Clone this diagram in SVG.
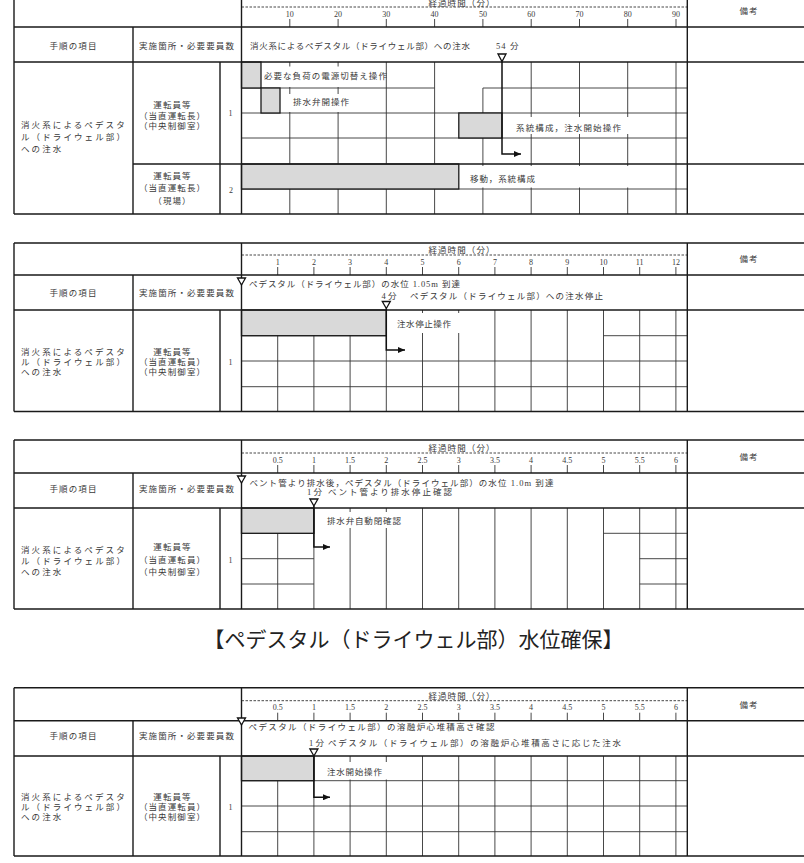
<svg xmlns="http://www.w3.org/2000/svg" width="804" height="863" viewBox="0 0 804 863">
<defs>
<marker id="ah" markerWidth="7" markerHeight="6" refX="7" refY="3" orient="auto" markerUnits="userSpaceOnUse"><path d="M0,0 L7,3 L0,6 z" fill="#111"/></marker>
</defs>
<style>
.b{stroke:#1a1a1a;stroke-width:1.4;fill:none}
.g{stroke:#333;stroke-width:0.9;fill:none}
.d{stroke:#333;stroke-width:0.9;stroke-dasharray:2.5 1.5;fill:none}
.bar{fill:#d9d9d9;stroke:#1a1a1a;stroke-width:1.3}
.bg{fill:#fff}
.t{font-family:"Liberation Serif","Noto Sans CJK JP",serif;font-size:8.5px;fill:#3a3a3a;letter-spacing:1.1px}
.c{text-anchor:middle}
.l{letter-spacing:2.1px}
.z{letter-spacing:0}
.n{font-family:"Liberation Serif",serif;font-size:8px;fill:#3a3a3a;text-anchor:middle}
.tri{fill:#fff;stroke:#111;stroke-width:1.3}
.ar{stroke:#111;stroke-width:1.5;fill:none;marker-end:url(#ah)}
.title{font-family:"Liberation Serif","Noto Sans CJK JP",serif;font-size:21px;fill:#222;text-anchor:middle}
</style>
<rect width="804" height="863" fill="#fff"/>

<!-- ================= TABLE 1 ================= -->
<g id="table1">
  <g id="t1-grid">
    <path class="d" d="M241.5 7H687.3"/>
    <path class="g" d="M289.8 19V27M338.1 19V27M386.3 19V27M434.6 19V27M482.9 19V27M531.2 19V27M579.5 19V27M627.7 19V27M676 19V27"/>
    <path class="g" d="M241.5 88H434.6M482.9 88H687.3M241.5 113H687.3M241.5 138H687.3M241.5 189H687.3"/>
    <path class="g" d="M289.8 62V214M338.1 62V214M386.3 62V214M434.6 62V214M482.9 88V214M531.2 62V214M579.5 62V214M627.7 62V214M676 62V214"/>
  </g>
  <g id="t1-bars">
    <rect class="bar" x="241.5" y="62" width="19.5" height="26"/>
    <rect class="bar" x="261" y="88" width="19" height="25"/>
    <rect class="bar" x="458.8" y="113" width="43.2" height="25"/>
    <rect class="bar" x="241.5" y="164" width="217.3" height="25"/>
    <rect class="bg" x="262.5" y="66.5" width="121" height="20.5"/>
    <rect class="bg" x="283" y="94" width="100" height="18"/>
    <rect class="bg" x="512" y="117" width="158" height="17"/>
    <rect class="bg" x="460" y="166" width="212" height="21.5"/>
  </g>
  <path class="b" d="M14 -6H804M14 27H804M14 62H804M14 214H804M133 164H804M14 -6V214M133 27V214M220 62V214M241.5 -6V214M687.3 -6V214"/>
  <g id="t1-labels">
    <text class="n" x="289.8" y="16.5">10</text><text class="n" x="338.1" y="16.5">20</text><text class="n" x="386.3" y="16.5">30</text><text class="n" x="434.6" y="16.5">40</text><text class="n" x="482.9" y="16.5">50</text><text class="n" x="531.2" y="16.5">60</text><text class="n" x="579.5" y="16.5">70</text><text class="n" x="627.7" y="16.5">80</text><text class="n" x="676" y="16.5">90</text>
    <text class="t c" x="462" y="5.5">経過時間（分）</text>
    <text class="t c" x="749" y="14">備考</text>
    <text class="t c" x="73.5" y="49">手順の項目</text>
    <text class="t c" x="187" y="49">実施箇所・必要要員数</text>
    <text class="t" x="250" y="49" textLength="221" lengthAdjust="spacing">消火系によるペデスタル（ドライウェル部）への注水</text>
    <text class="t" x="496" y="49">54 分</text>
    <text class="t" x="264" y="78.5" textLength="124" lengthAdjust="spacing">必要な負荷の電源切替え操作</text>
    <text class="t" x="293" y="104.5" textLength="57" lengthAdjust="spacing">排水弁開操作</text>
    <text class="t" x="516" y="130.5" textLength="106" lengthAdjust="spacing">系統構成，注水開始操作</text>
    <text class="t" x="470" y="181.5" textLength="66" lengthAdjust="spacing">移動，系統構成</text>
    <text class="t l" x="21" y="128">消火系によるペデスタ</text>
    <text class="t l" x="21" y="140.3">ル（ドライウェル部）</text>
    <text class="t l" x="21" y="152.3">への注水</text>
    <text class="t c" x="172.5" y="107.5">運転員等</text>
    <text class="t c" x="172.5" y="118.5">（当直運転長）</text>
    <text class="t c" x="172.5" y="129">（中央制御室）</text>
    <text class="n" x="230.5" y="116">1</text>
    <text class="t c" x="172.5" y="178.5">運転員等</text>
    <text class="t c" x="172.5" y="191">（当直運転長）</text>
    <text class="t c" x="172.5" y="204">（現場）</text>
    <text class="n" x="231" y="193">2</text>
  </g>
</g>

<!-- ================= TABLE 2 ================= -->
<g id="table2">
  <g id="t2-grid">
    <path class="d" d="M241.5 255H687.3"/>
    <path class="g" d="M277.7 267V275M313.9 267V275M350.1 267V275M386.3 267V275M422.5 267V275M458.7 267V275M494.9 267V275M531.1 267V275M567.3 267V275M603.5 267V275M639.7 267V275M675.9 267V275"/>
    <path class="g" d="M241.5 335.7H386.3M603.5 335.7H687.3M241.5 361H687.3M241.5 386.7H687.3"/>
    <path class="g" d="M277.7 310V411.5M313.9 310V411.5M350.1 310V411.5M386.3 310V411.5M422.5 310V411.5M458.7 310V411.5M494.9 310V411.5M531.1 310V411.5M567.3 310V411.5M603.5 310V411.5M639.7 310V411.5M675.9 310V411.5"/>
  </g>
  <g id="t2-bars">
    <rect class="bar" x="241.5" y="310" width="144.8" height="25.7"/>
    <rect class="bg" x="390" y="313" width="80" height="20"/>
  </g>
  <path class="b" d="M14 243H804M14 275H804M14 310H804M14 411.5H804M14 243V411.5M133 275V411.5M220 310V411.5M241.5 243V411.5M687.3 243V411.5"/>
  <g id="t2-labels">
    <text class="n" x="277.7" y="264.5">1</text><text class="n" x="313.9" y="264.5">2</text><text class="n" x="350.1" y="264.5">3</text><text class="n" x="386.3" y="264.5">4</text><text class="n" x="422.5" y="264.5">5</text><text class="n" x="458.7" y="264.5">6</text><text class="n" x="494.9" y="264.5">7</text><text class="n" x="531.1" y="264.5">8</text><text class="n" x="567.3" y="264.5">9</text><text class="n" x="603.5" y="264.5">10</text><text class="n" x="639.7" y="264.5">11</text><text class="n" x="675.9" y="264.5">12</text>
    <text class="t c" x="462" y="253">経過時間（分）</text>
    <text class="t c" x="749" y="262">備考</text>
    <text class="t c" x="73.5" y="295.5">手順の項目</text>
    <text class="t c" x="187" y="295.5">実施箇所・必要要員数</text>
    <text class="t" x="249" y="287" textLength="212" lengthAdjust="spacing">ペデスタル（ドライウェル部）の水位 1.05m 到達</text>
    <text class="t z" x="381.5" y="299">4 分</text>
    <text class="t" x="410" y="299" textLength="194" lengthAdjust="spacing">ペデスタル（ドライウェル部）への注水停止</text>
    <text class="t" x="397" y="327" textLength="55" lengthAdjust="spacing">注水停止操作</text>
    <text class="t l" x="21" y="355.3">消火系によるペデスタ</text>
    <text class="t l" x="21" y="365.3">ル（ドライウェル部）</text>
    <text class="t l" x="21" y="375.3">への注水</text>
    <text class="t c" x="172.5" y="354.5">運転員等</text>
    <text class="t c" x="172.5" y="365.3">（当直運転員）</text>
    <text class="t c" x="172.5" y="375.3">（中央制御室）</text>
    <text class="n" x="230.5" y="365">1</text>
  </g>
</g>

<!-- ================= TABLE 3 ================= -->
<g id="table3">
  <g id="t3-grid">
    <path class="d" d="M241.5 453H687.3"/>
    <path class="g" d="M277.7 465V473M313.9 465V473M350.1 465V473M386.3 465V473M422.5 465V473M458.7 465V473M494.9 465V473M531.1 465V473M567.3 465V473M603.5 465V473M639.7 465V473M675.9 465V473"/>
    <path class="g" d="M241.5 533.3H313.9M603.5 533.3H687.3M241.5 558.7H313.9M639.7 558.7H687.3M241.5 584H313.9M639.7 584H687.3"/>
    <path class="g" d="M277.7 533.3V609M313.9 508V609M350.1 508V609M386.3 508V609M422.5 508V609M458.7 508V609M494.9 508V609M531.1 508V609M567.3 508V609M603.5 508V609M639.7 508V609M675.9 508V609"/>
  </g>
  <g id="t3-bars">
    <rect class="bar" x="241.5" y="508" width="72.4" height="25.3"/>
    <rect class="bg" x="322" y="512" width="84" height="16"/>
  </g>
  <path class="b" d="M14 440H804M14 473H804M14 508H804M14 609H804M14 440V609M133 473V609M220 508V609M241.5 440V609M687.3 440V609"/>
  <g id="t3-labels">
    <text class="n" x="277.7" y="462.5">0.5</text><text class="n" x="313.9" y="462.5">1</text><text class="n" x="350.1" y="462.5">1.5</text><text class="n" x="386.3" y="462.5">2</text><text class="n" x="422.5" y="462.5">2.5</text><text class="n" x="458.7" y="462.5">3</text><text class="n" x="494.9" y="462.5">3.5</text><text class="n" x="531.1" y="462.5">4</text><text class="n" x="567.3" y="462.5">4.5</text><text class="n" x="603.5" y="462.5">5</text><text class="n" x="639.7" y="462.5">5.5</text><text class="n" x="675.9" y="462.5">6</text>
    <text class="t c" x="462" y="451">経過時間（分）</text>
    <text class="t c" x="749" y="460">備考</text>
    <text class="t c" x="73.5" y="491.5">手順の項目</text>
    <text class="t c" x="187" y="491.5">実施箇所・必要要員数</text>
    <text class="t" x="249.5" y="486" textLength="305" lengthAdjust="spacing">ベント管より排水後，ペデスタル（ドライウェル部）の水位 1.0m 到達</text>
    <text class="t z" x="307" y="495">1 分</text>
    <text class="t" x="328" y="495" textLength="125" lengthAdjust="spacing">ベント管より排水停止確認</text>
    <text class="t" x="327" y="524" textLength="75" lengthAdjust="spacing">排水弁自動閉確認</text>
    <text class="t l" x="21" y="553">消火系によるペデスタ</text>
    <text class="t l" x="21" y="564">ル（ドライウェル部）</text>
    <text class="t l" x="21" y="575">への注水</text>
    <text class="t c" x="172.5" y="550">運転員等</text>
    <text class="t c" x="172.5" y="563">（当直運転員）</text>
    <text class="t c" x="172.5" y="574.7">（中央制御室）</text>
    <text class="n" x="230.5" y="563">1</text>
  </g>
</g>

<!-- ================= TITLE ================= -->
<text id="title" class="title" x="413.5" y="647" textLength="420" lengthAdjust="spacing">【ペデスタル（ドライウェル部）水位確保】</text>

<!-- ================= TABLE 4 ================= -->
<g id="table4">
  <g id="t4-grid">
    <path class="d" d="M241.5 700.7H687.3"/>
    <path class="g" d="M277.7 712.7V720.7M313.9 712.7V720.7M350.1 712.7V720.7M386.3 712.7V720.7M422.5 712.7V720.7M458.7 712.7V720.7M494.9 712.7V720.7M531.1 712.7V720.7M567.3 712.7V720.7M603.5 712.7V720.7M639.7 712.7V720.7M675.9 712.7V720.7"/>
    <path class="g" d="M241.5 780.7H687.3M241.5 806H687.3M241.5 831.7H687.3"/>
    <path class="g" d="M277.7 780.7V856M313.9 756V856M350.1 756V856M386.3 756V856M422.5 756V856M458.7 756V856M494.9 756V856M531.1 756V856M567.3 756V856M603.5 756V856M639.7 756V856M675.9 756V856"/>
  </g>
  <g id="t4-bars">
    <rect class="bar" x="241.5" y="756" width="72.4" height="24.7"/>
    <rect class="bg" x="321" y="762" width="70" height="17.5"/>
  </g>
  <path class="b" d="M14 687.7H804M14 720.7H804M14 756H804M14 856H804M14 687.7V856M133 720.7V856M220 756V856M241.5 687.7V856M687.3 687.7V856"/>
  <g id="t4-labels">
    <text class="n" x="277.7" y="710">0.5</text><text class="n" x="313.9" y="710">1</text><text class="n" x="350.1" y="710">1.5</text><text class="n" x="386.3" y="710">2</text><text class="n" x="422.5" y="710">2.5</text><text class="n" x="458.7" y="710">3</text><text class="n" x="494.9" y="710">3.5</text><text class="n" x="531.1" y="710">4</text><text class="n" x="567.3" y="710">4.5</text><text class="n" x="603.5" y="710">5</text><text class="n" x="639.7" y="710">5.5</text><text class="n" x="675.9" y="710">6</text>
    <text class="t c" x="462" y="698.7">経過時間（分）</text>
    <text class="t c" x="749" y="707.5">備考</text>
    <text class="t c" x="73.5" y="739">手順の項目</text>
    <text class="t c" x="187" y="739">実施箇所・必要要員数</text>
    <text class="t" x="248.5" y="730" textLength="247" lengthAdjust="spacing">ペデスタル（ドライウェル部）の溶融炉心堆積高さ確認</text>
    <text class="t z" x="309" y="746">1 分</text>
    <text class="t" x="328" y="746" textLength="294" lengthAdjust="spacing">ペデスタル（ドライウェル部）の溶融炉心堆積高さに応じた注水</text>
    <text class="t" x="327" y="775" textLength="56" lengthAdjust="spacing">注水開始操作</text>
    <text class="t l" x="21" y="799.7">消火系によるペデスタ</text>
    <text class="t l" x="21" y="810.3">ル（ドライウェル部）</text>
    <text class="t l" x="21" y="820.3">への注水</text>
    <text class="t c" x="172.5" y="799.7">運転員等</text>
    <text class="t c" x="172.5" y="810.3">（当直運転員）</text>
    <text class="t c" x="172.5" y="820.3">（中央制御室）</text>
    <text class="n" x="230.5" y="810">1</text>
  </g>
</g>

<!-- ================= CONNECTORS / MARKERS ================= -->
<g id="connectors">
  <polygon class="tri" points="498,54 506,54 502,61.5"/>
  <path class="ar" d="M502 61.5V154H521"/>
  <polygon class="tri" points="237.5,278 245.5,278 241.5,285"/>
  <polygon class="tri" points="382.3,301.5 390.3,301.5 386.3,308.5"/>
  <path class="ar" d="M386.3 308.5V350H405"/>
  <polygon class="tri" points="237.5,476 245.5,476 241.5,483"/>
  <polygon class="tri" points="309.9,499 317.9,499 313.9,506"/>
  <path class="ar" d="M313.9 506V547H330"/>
  <polygon class="tri" points="237.5,718 245.5,718 241.5,725"/>
  <polygon class="tri" points="309.9,749 317.9,749 313.9,756"/>
  <path class="ar" d="M313.9 756V797.3H330"/>
</g>
</svg>
